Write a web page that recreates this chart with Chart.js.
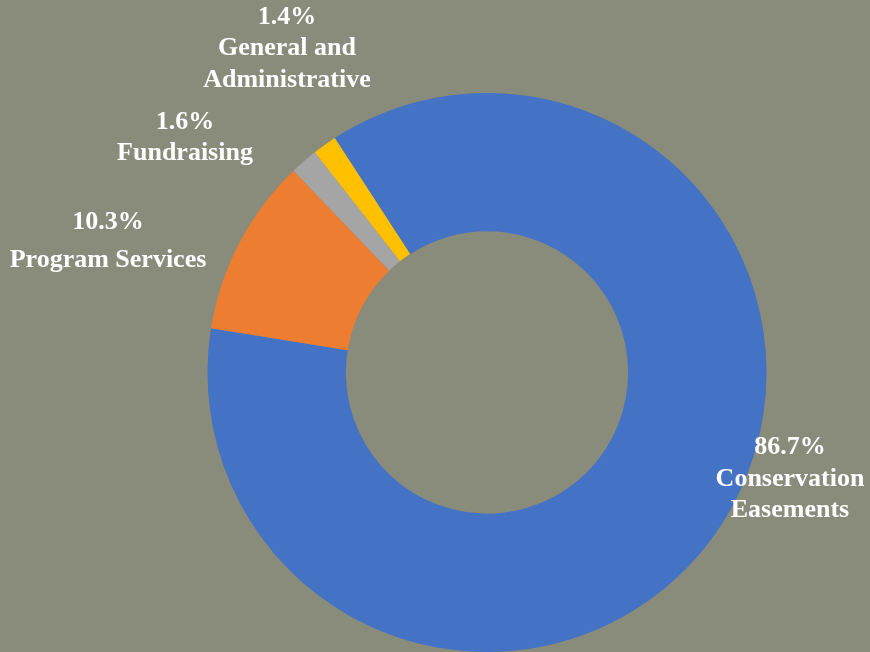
<!DOCTYPE html>
<html>
<meta charset="UTF-8">
<head>
    <title>Expenses</title>
    <script src="https://cdn.jsdelivr.net/npm/chart.js"></script>
    <style>
        html, body { margin: 0; padding: 0; background: #898b7b; overflow: hidden; }
        #chartContainer { width: 870px; height: 652px; }
    </style>
</head>
<body>
<div id="chartContainer">
    <canvas id="chart" width="870" height="652"></canvas>
</div>

<script>
    // Данные диаграммы
    const categories = ['Conservation Easements', 'Program Services', 'Fundraising', 'General and Administrative'];
    const percents = [86.7, 10.3, 1.6, 1.4];
    const labelLines = [
        ['86.7%', 'Conservation', 'Easements'],
        ['10.3%', 'Program Services'],
        ['1.6%', 'Fundraising'],
        ['1.4%', 'General and', 'Administrative']
    ];
    const sliceColors = ['#4472c4', '#ed7d31', '#a5a5a5', '#ffc000'];

    // Где стоят подписи (x центра, y каждой строки)
    const labelPlaces = [
        { x: 790, y: [447, 479, 510] },
        { x: 108, y: [222, 260] },
        { x: 185, y: [122, 153] },
        { x: 287, y: [17, 48, 80] }
    ];

    const labelPlugin = {
        id: 'sliceLabels',
        afterDatasetsDraw(chart) {
            const ctx = chart.ctx;
            ctx.save();
            ctx.fillStyle = '#ffffff';
            ctx.font = 'bold 26px "Liberation Serif", "DejaVu Serif", serif';
            ctx.textAlign = 'center';
            ctx.textBaseline = 'middle';
            labelLines.forEach((lines, i) => {
                const place = labelPlaces[i];
                lines.forEach((line, j) => ctx.fillText(line, place.x, place.y[j]));
            });
            ctx.restore();
        }
    };

    const ctx = document.getElementById('chart').getContext('2d');
    new Chart(ctx, {
        type: 'doughnut',
        data: {
            labels: categories,
            datasets: [{
                data: percents,
                backgroundColor: sliceColors,
                borderWidth: 0
            }]
        },
        options: {
            responsive: false,
            animation: false,
            rotation: -33,
            cutout: '50.5%',
            layout: { padding: { left: 207, right: 103, top: 93, bottom: 0 } },
            plugins: {
                legend: { display: false },
                tooltip: { enabled: false }
            }
        },
        plugins: [labelPlugin]
    });
</script>
</body>
</html>
